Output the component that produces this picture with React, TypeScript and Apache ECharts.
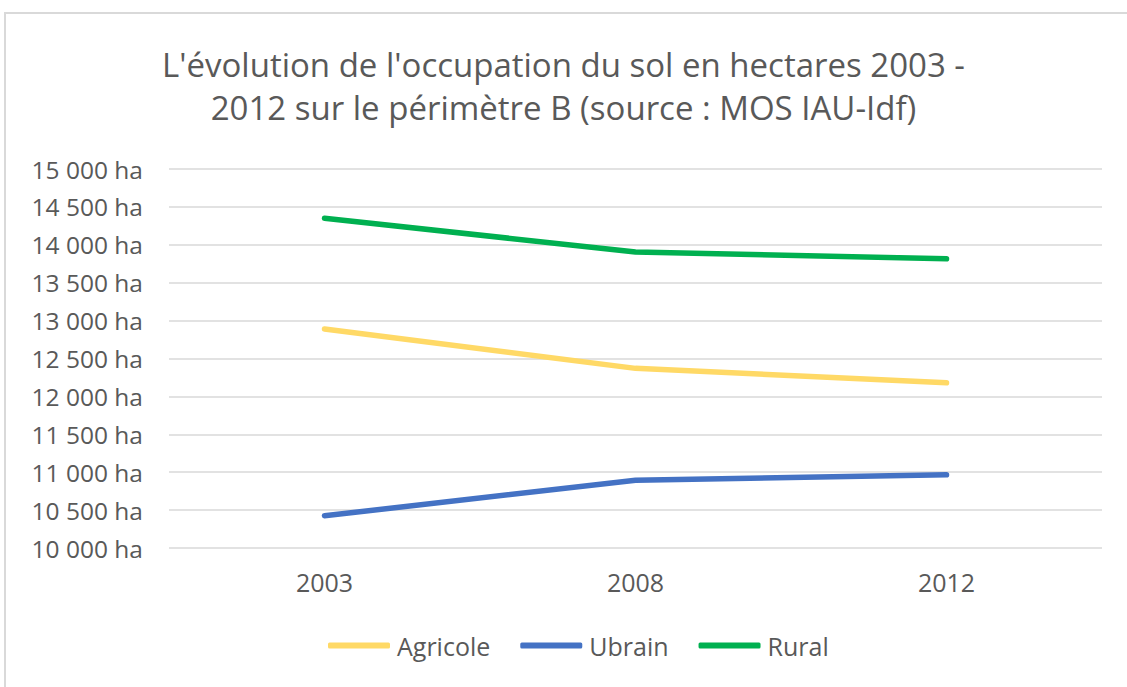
import React, { useEffect, useRef } from "react";
import * as echarts from "echarts";

const years = ["2003", "2008", "2012"];
const agricole = [12890, 12370, 12180];
const ubrain = [10425, 10895, 10965];
const rural = [14350, 13905, 13815];
const seriesNames = ["Agricole", "Ubrain", "Rural"];
const colors = ["#FFD966", "#4472C4", "#00B050"];

const FONT = "'Open Sans', sans-serif";

function fmt(v: number): string {
  const s = String(Math.round(v));
  return s.replace(/\B(?=(\d{3})+(?!\d))/g, " ") + " ha";
}

export default function App() {
  const ref = useRef<HTMLDivElement>(null);
  useEffect(() => {
    if (!ref.current) return;
    const chart = echarts.init(ref.current, null, { renderer: "svg" });
    const data = [agricole, ubrain, rural];
    chart.setOption({
      animation: false,
      backgroundColor: "#ffffff",
      graphic: [
        {
          type: "rect",
          shape: { x: 5, y: 13, width: 1140, height: 700 },
          style: { fill: "none", stroke: "#d9d9d9", lineWidth: 2 },
          silent: true,
        },
      ],
      title: {
        text: "L'évolution de l'occupation du sol en hectares 2003 -\n2012 sur le périmètre B (source : MOS IAU-Idf)",
        left: "center",
        top: 43,
        padding: 0,
        textStyle: {
          fontFamily: FONT,
          fontSize: 33,
          fontWeight: "normal",
          color: "#595959",
          lineHeight: 43,
        },
      },
      grid: { left: 169, right: 25, top: 169, bottom: 139, containLabel: false },
      legend: {
        data: seriesNames,
        top: 633,
        left: 328,
        padding: 0,
        icon: "roundRect",
        itemWidth: 62,
        itemHeight: 6,
        itemGap: 30,
        textStyle: { fontFamily: FONT, fontSize: 25, color: "#595959", padding: [0, 0, 0, 2] },
      },
      xAxis: {
        type: "category",
        data: years,
        boundaryGap: true,
        axisLine: { show: false },
        axisTick: { show: false },
        axisLabel: { fontFamily: FONT, fontSize: 25, color: "#595959", margin: 21 },
      },
      yAxis: {
        type: "value",
        min: 10000,
        max: 15000,
        interval: 500,
        axisLine: { show: false },
        axisTick: { show: false },
        axisLabel: {
          fontFamily: FONT,
          fontSize: 24.5,
          color: "#595959",
          margin: 26,
          formatter: (v: number) => fmt(v),
        },
        splitLine: { lineStyle: { color: "#d9d9d9", width: 1.5 } },
      },
      series: seriesNames.map((n, i) => ({
        name: n,
        type: "line",
        data: data[i],
        symbol: "none",
        lineStyle: { color: colors[i], width: 5.5, cap: "round", join: "round" },
        itemStyle: { color: colors[i] },
      })),
    });
    return () => chart.dispose();
  }, []);
  return (
    <div
      ref={ref}
      style={{ position: "fixed", left: 0, top: 0, width: 1127, height: 687 }}
    />
  );
}
